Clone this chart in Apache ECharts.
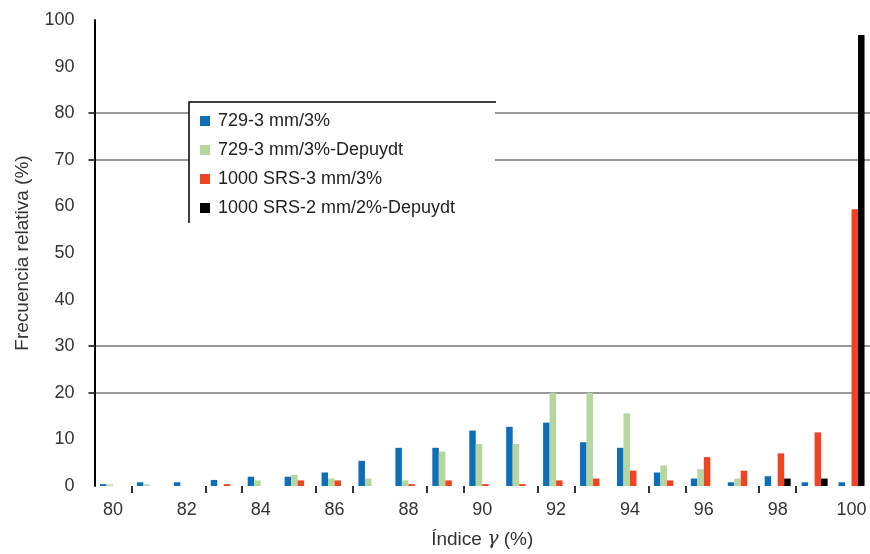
<!DOCTYPE html>
<html>
<head>
<meta charset="utf-8">
<script src="https://cdn.jsdelivr.net/npm/echarts@6/dist/echarts.min.js"></script>
<style>html,body{margin:0;padding:0;background:#fff}#chart{width:870px;height:554px}</style>
</head>
<body>
<div id="chart"></div>
<script>
const categories = ['80','81','82','83','84','85','86','87','88','89','90','91','92','93','94','95','96','97','98','99','100'];
const seriesNames = ['729-3 mm/3%', '729-3 mm/3%-Depuydt', '1000 SRS-3 mm/3%', '1000 SRS-2 mm/2%-Depuydt'];
const blueValues  = [0.4,0.8,0.8,1.3,2.0,2.0,2.9,5.4,8.2,8.2,11.9,12.7,13.6,9.4,8.2,2.9,1.6,0.8,2.1,0.8,0.8];
const greenValues = [0.3,0.35,0,0,1.2,2.4,1.6,1.6,1.2,7.4,9.0,9.0,20,20,15.6,4.4,3.6,1.6,0,0,0];
const redValues   = [0,0,0,0.4,0,1.2,1.2,0,0.4,1.2,0.4,0.4,1.2,1.6,3.3,1.2,6.2,3.3,7.0,11.5,59.4];
const blackValues = [0,0,0,0,0,0,0,0,0,0,0,0,0,0,0,0,0,0,1.6,1.6,96.8];
const gridValues = [20,30,70,80];
const yTicks = { min: 0, max: 100, interval: 10 };
// category boundaries (counted from the left edge) where the reference shows a tick mark
const xTickBoundaries = [1,3,4,6,7,9,10,12,13,15,16,18,19];

const colors = ['#0E6EB8', '#B5D69C', '#EE4423', '#000000'];
const allValues = [blueValues, greenValues, redValues, blackValues];
const font = 'Liberation Sans, Arial, sans-serif';

const chart = echarts.init(document.getElementById('chart'), null, {renderer: 'canvas'});
chart.setOption({
  animation: false,
  backgroundColor: '#fff',
  textStyle: { fontFamily: font },
  grid: { left: 94.5, right: -5.5, top: 20, bottom: 68, containLabel: false },
  xAxis: [{
    type: 'category',
    data: categories,
    boundaryGap: true,
    axisLine: { show: false },
    axisTick: { show: false },
    axisLabel: { interval: 1, fontSize: 18, color: '#333', margin: 15, fontFamily: font },
    name: '{n|Índice }{g|γ}{n| (%)}',
    nameLocation: 'middle',
    nameGap: 44,
    nameTextStyle: {
      rich: {
        n: { fontSize: 19, color: '#333', fontFamily: font },
        g: { fontSize: 19, color: '#333', fontStyle: 'italic', fontFamily: 'DejaVu Serif, serif' }
      }
    }
  }, {
    type: 'value',
    position: 'bottom',
    min: 0,
    max: categories.length,
    axisLine: { show: false },
    axisLabel: { show: false },
    splitLine: { show: false },
    axisTick: { show: true, customValues: xTickBoundaries, length: 7, lineStyle: { color: '#333', width: 2 } }
  }],
  yAxis: {
    type: 'value',
    min: yTicks.min, max: yTicks.max, interval: yTicks.interval,
    axisLine: { show: true, lineStyle: { color: '#000', width: 2 } },
    axisTick: { show: true, customValues: gridValues, length: 6, lineStyle: { color: '#444', width: 2 } },
    splitLine: { show: true, lineStyle: { color: '#999', width: 2 } },
    axisLabel: { fontSize: 18, color: '#333', margin: 20, fontFamily: font },
    name: 'Frecuencia relativa (%)',
    nameLocation: 'middle',
    nameGap: 62,
    nameTextStyle: { fontSize: 19, color: '#333', fontFamily: font }
  },
  graphic: [
    { type: 'rect', z: 5, shape: { x: 189, y: 102, width: 306, height: 121 }, style: { fill: '#fff' } },
    { type: 'polyline', z: 6, shape: { points: [[496, 102], [189, 102], [189, 223]] }, style: { stroke: '#000', lineWidth: 1.5, fill: null } }
  ],
  legend: {
    z: 10,
    orient: 'vertical',
    left: 195,
    top: 107,
    icon: 'rect',
    itemWidth: 10,
    itemHeight: 10,
    itemGap: 11,
    selectedMode: false,
    textStyle: { fontSize: 18, color: '#222', lineHeight: 18, fontFamily: font, padding: [0, 0, 0, 3] },
    data: seriesNames
  },
  series: seriesNames.map(function (n, i) {
    return {
      name: n,
      type: 'bar',
      xAxisIndex: 0,
      data: allValues[i],
      barWidth: 6.5,
      barGap: '0%',
      itemStyle: { color: colors[i] }
    };
  })
});
</script>
</body>
</html>
